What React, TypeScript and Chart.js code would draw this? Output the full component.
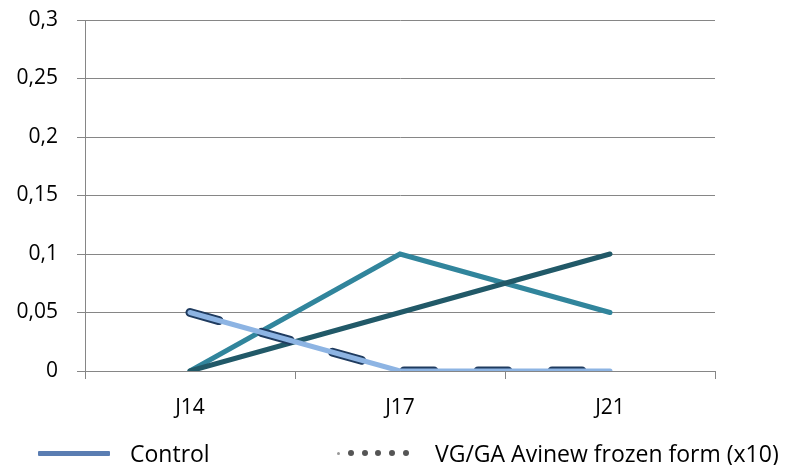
import React, { useEffect, useRef } from 'react';
import { Chart, registerables } from 'chart.js';

Chart.register(...registerables);

const categories = ['J14', 'J17', 'J21'];
const controlValues = [0.05, 0, 0];
const frozenValues = [0.05, 0, 0];
const series3Values = [0, 0.1, 0.05];
const series4Values = [0, 0.05, 0.1];
const yMin = 0;
const yMax = 0.3;
const yStep = 0.05;
const legendLabels = ['Control', 'VG/GA Avinew frozen form (x10)'];

const FONT = '"Open Sans", "Noto Sans", sans-serif';
const FONT_SIZE = 21;

export default function App() {
  const ref = useRef<HTMLCanvasElement | null>(null);

  useEffect(() => {
    if (!ref.current) return;
    const chart = new Chart(ref.current, {
      type: 'line',
      data: {
        labels: categories,
        datasets: [
          {
            label: legendLabels[0],
            data: controlValues,
            borderColor: '#8DB4E3',
            borderWidth: 5,
            borderCapStyle: 'round',
            borderJoinStyle: 'round',
            pointRadius: 0,
            tension: 0,
            order: 0,
          },
          {
            label: legendLabels[1],
            data: frozenValues,
            borderColor: '#1F3B5F',
            borderWidth: 9,
            borderDash: [30, 44],
            borderCapStyle: 'round',
            pointRadius: 0,
            tension: 0,
            order: 1,
          },
          {
            label: 'Series 4',
            data: series4Values,
            borderColor: '#215968',
            borderWidth: 5,
            borderCapStyle: 'round',
            pointRadius: 0,
            tension: 0,
            order: 2,
          },
          {
            label: 'Series 3',
            data: series3Values,
            borderColor: '#31859C',
            borderWidth: 5,
            borderCapStyle: 'round',
            pointRadius: 0,
            tension: 0,
            order: 3,
          },
        ],
      },
      options: {
        animation: false,
        responsive: false,
        maintainAspectRatio: false,
        devicePixelRatio: 1,
        layout: { padding: { top: 20, right: 73, left: 0, bottom: 0 } },
        plugins: {
          legend: { display: false },
          tooltip: { enabled: false },
        },
        scales: {
          x: {
            offset: true,
            grid: {
              offset: true,
              drawOnChartArea: false,
              drawTicks: true,
              tickLength: 8,
              color: '#868686',
            },
            border: { color: '#868686', width: 1 },
            ticks: {
              color: '#000',
              padding: 16,
              font: { family: FONT, size: FONT_SIZE },
            },
            afterFit: (s: any) => {
              s.height = 94;
              s.paddingLeft = 0;
              s.paddingRight = 0;
            },
          },
          y: {
            min: yMin,
            max: yMax,
            grid: {
              color: '#868686',
              tickLength: 8,
              lineWidth: 1,
            },
            border: { color: '#868686', width: 1 },
            ticks: {
              stepSize: yStep,
              color: '#000',
              padding: 19,
              font: { family: FONT, size: FONT_SIZE },
              callback: (v: any) => String(Math.round(Number(v) * 100) / 100).replace('.', ','),
            },
            afterFit: (s: any) => {
              s.width = 85;
              s.paddingTop = 0;
              s.paddingBottom = 0;
            },
          },
        },
      },
    });
    return () => chart.destroy();
  }, []);

  const textStyle: React.CSSProperties = {
    position: 'absolute',
    top: 438,
    fontFamily: FONT,
    fontSize: 23,
    color: '#000',
    whiteSpace: 'nowrap',
    lineHeight: '30px',
  };

  return (
    <div style={{ position: 'fixed', left: 0, top: 0, width: 788, height: 465, background: '#fff', overflow: 'hidden' }}>
      <canvas ref={ref} width={788} height={465} style={{ width: 788, height: 465, display: 'block' }} />
      <div style={{ position: 'absolute', left: 38, top: 451, width: 72, height: 5, background: '#5A7DB2', borderRadius: 1 }} />
      <div style={{ ...textStyle, left: 130 }}>{legendLabels[0]}</div>
      <div style={{ position: 'absolute', left: 337, top: 449, width: 72, height: 8, display: 'flex', justifyContent: 'space-between', alignItems: 'center' }}>
        {[0, 1, 2, 3, 4, 5].map((i) => (
          <div key={i} style={{ width: i === 0 ? 3 : 6, height: i === 0 ? 3 : 6, borderRadius: '50%', background: i === 0 ? '#999' : '#555' }} />
        ))}
      </div>
      <div style={{ ...textStyle, left: 435 }}>{legendLabels[1]}</div>
    </div>
  );
}
